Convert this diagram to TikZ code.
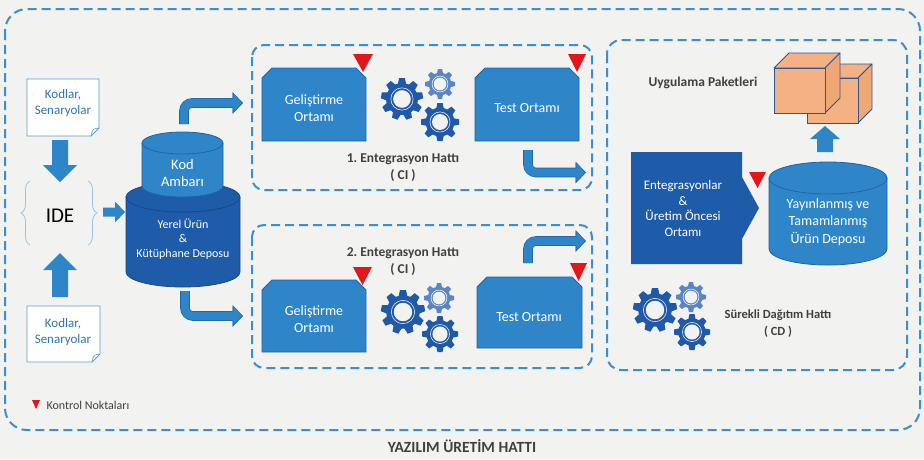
\documentclass[tikz,border=0pt]{standalone}
\usepackage{fontspec}
\setmainfont{Carlito}
\usetikzlibrary{calc,decorations.pathreplacing}

\definecolor{bg}{HTML}{F2F2F0}
\definecolor{midblue}{HTML}{2E86C9}
\definecolor{midedge}{HTML}{1F64A8}
\definecolor{darkblue}{HTML}{1E5BA8}
\definecolor{darkedge}{HTML}{174886}
\definecolor{gearlight}{HTML}{5A86C6}
\definecolor{geardark}{HTML}{2159A9}
\definecolor{dashblue}{HTML}{3A8FD0}
\definecolor{txtgray}{HTML}{404040}
\definecolor{doctext}{HTML}{2E75B6}
\definecolor{docedge}{HTML}{5B9BD5}
\definecolor{bracec}{HTML}{9DC3E6}
\definecolor{redmark}{HTML}{E3161B}
\definecolor{boxorange}{HTML}{F4B183}
\definecolor{boxside}{HTML}{EFA873}
\definecolor{boxedge}{HTML}{2F5597}

% cylinder: cx, top centre y, bottom centre y, rx, ry, body fill, top fill, edge
\newcommand{\cylshape}[8]{%
  \filldraw[fill=#6, draw=#8, line width=0.8pt] (#1-#4,-#2) -- (#1-#4,-#3)
    arc[start angle=180, end angle=360, x radius=#4pt, y radius=#5pt] -- (#1+#4,-#2) -- cycle;
  \filldraw[fill=#7, draw=#8, line width=0.8pt] (#1,-#2) ellipse [x radius=#4pt, y radius=#5pt];}

% document sheet with a curled corner: x0, y0, x1, y1, fold
\newcommand{\docshape}[5]{%
  \filldraw[fill=white, draw=docedge, line width=0.8pt] (#1,-#2) -- (#3,-#2) -- (#3,-#4+#5)
    -- (#3-#5,-#4) -- (#1,-#4) -- cycle;
  \draw[docedge, line width=0.6pt] (#3,-#4+#5) .. controls (#3-#5*0.8,-#4+#5*0.9) .. (#3-#5,-#4);}

% gear: cx, cy, outer radius, teeth, colour
\newcommand{\gearshape}[5]{%
  \begin{scope}[shift={(#1,-#2)}]
    \fill[#5] (0,0) circle[radius=0.76*#3];
    \pgfmathsetmacro\gstep{360/#4}
    \foreach \k in {1,...,#4}{%
      \fill[#5, rotate=\k*\gstep] (-0.2*#3,0.7*#3) -- (-0.14*#3,#3) -- (0.14*#3,#3) -- (0.2*#3,0.7*#3) -- cycle;}
    \fill[bg] (0,0) circle[radius=0.42*#3];
    \draw[white, line width=0.5pt] (0,0) circle[radius=0.53*#3];
  \end{scope}}

% box in perspective: x0, y0, x1, y1 (front face), depth
\newcommand{\cubeshape}[5]{%
  \filldraw[fill=boxorange, draw=boxedge, line width=0.8pt, line join=round]
    (#1,-#2) -- (#1+#5,-#2+#5) -- (#3+#5,-#2+#5) -- (#3,-#2) -- cycle;
  \filldraw[fill=boxside, draw=boxedge, line width=0.8pt, line join=round]
    (#3,-#2) -- (#3+#5,-#2+#5) -- (#3+#5,-#4+#5) -- (#3,-#4) -- cycle;
  \filldraw[fill=boxorange, draw=boxedge, line width=0.8pt] (#1,-#2) rectangle (#3,-#4);}

% environment block with cut top corners: x0, y0, x1, y1
\newcommand{\envshape}[4]{%
  \filldraw[fill=midblue, draw=midedge, line width=0.8pt] (#1,-#2-10) -- (#1,-#4) -- (#3,-#4)
    -- (#3,-#2-10) -- (#3-10,-#2) -- (#1+10,-#2) -- cycle;}

% straight block arrows
\newcommand{\vblock}[6]{% x, tail y, head base y, tip y, shaft half, head half
  \fill[midblue] (#1-#5,-#2) -- (#1-#5,-#3) -- (#1-#6,-#3) -- (#1,-#4) -- (#1+#6,-#3)
    -- (#1+#5,-#3) -- (#1+#5,-#2) -- cycle;}
\newcommand{\hblock}[6]{% y, tail x, head base x, tip x, shaft half, head half
  \fill[midblue] (#2,-#1+#5) -- (#3,-#1+#5) -- (#3,-#1+#6) -- (#4,-#1) -- (#3,-#1-#6)
    -- (#3,-#1-#5) -- (#2,-#1-#5) -- cycle;}

% bent block arrow ending to the right
\newcommand{\bentarrow}[2]{%
  \draw[shaft] (#1) |- (#2);
  \fill[midblue] ($(#2)+(-0.5,10)$) -- ($(#2)+(9.5,0)$) -- ($(#2)+(-0.5,-10)$) -- cycle;
  \draw[midedge, line width=0.7pt, line join=miter] ($(#2)+(0,4.6)$) -- ($(#2)+(0,10)$)
    -- ($(#2)+(9.5,0)$) -- ($(#2)+(0,-10)$) -- ($(#2)+(0,-4.6)$);}

% checkpoint marker: x, top y, width, height
\newcommand{\ctrlmark}[4]{%
  \fill[redmark] (#1-#3/2,-#2) -- (#1+#3/2,-#2) -- (#1,-#2-#4) -- cycle;}

\begin{document}
\begin{tikzpicture}[x=1pt, y=1pt,
  frame/.style={draw=dashblue, line width=2pt, dash pattern=on 9pt off 5pt},
  lbl/.style={text=txtgray, align=center, font=\bfseries\fontsize{13.5}{17}\selectfont},
  wtext/.style={text=white, align=center, font=\fontsize{14}{17}\selectfont},
  doctxt/.style={text=doctext, align=center, font=\fontsize{13}{16}\selectfont},
  shaft/.style={draw=midedge, line width=0.7pt, double=midblue, double distance=8.2pt, rounded corners=8pt}]

\fill[bg] (0,0) rectangle (924,-459);
\useasboundingbox (0,0) rectangle (924,-459);

% frames
\draw[frame, rounded corners=22pt] (5,-9) rectangle (920,-430);
\draw[frame, rounded corners=12pt] (252,-45) rectangle (592,-190);
\draw[frame, rounded corners=12pt] (252,-225) rectangle (592,-368);
\draw[frame, rounded corners=14pt] (607,-40) rectangle (907,-370);

% source documents and IDE
\docshape{27}{79}{99}{136}{8}
\node[doctxt] (docA) at (63,-103) {Kodlar,\\Senaryolar};
\docshape{27}{306}{100}{362}{8}
\node[doctxt] (docB) at (63,-332) {Kodlar,\\Senaryolar};
\node[text=black, font=\fontsize{21}{24}\selectfont] (ide) at (60,-216) {IDE};
\draw[bracec, line width=0.8pt, decorate, decoration={brace, amplitude=9pt}] (30,-245) -- (30,-181);
\draw[bracec, line width=0.8pt, decorate, decoration={brace, amplitude=9pt}] (88,-181) -- (88,-245);
\vblock{60}{140}{165}{182}{8}{17}
\vblock{60}{297}{270}{253}{8}{17}
\hblock{212}{103}{115}{125}{4.5}{10.5}

% repositories
\cylshape{183}{197}{272}{57}{15}{darkblue}{darkblue}{darkedge}
\cylshape{182.5}{143}{186}{40.5}{11}{midblue}{midblue}{midedge}
\node[wtext, font=\fontsize{14.5}{17.5}\selectfont] (kod) at (182.5,-173) {Kod\\Ambarı};
\node[wtext, font=\fontsize{12}{14.5}\selectfont] (yerel) at (183,-239) {Yerel Ürün\\\&\\Kütüphane Deposu};

\coordinate (repoTop) at (184,-124);
\coordinate (dev1in) at (233,-103);
\coordinate (repoBot) at (185,-291);
\coordinate (dev2in) at (233,-316);
\bentarrow{repoTop}{dev1in}
\bentarrow{repoBot}{dev2in}

% first integration line
\envshape{262}{68}{366}{141}
\node[wtext] (dev1) at (314,-108) {Geliştirme\\Ortamı};
\envshape{475}{68}{579}{141}
\node[wtext] (test1) at (527,-108) {Test Ortamı};
\ctrlmark{363}{54}{20}{18}
\ctrlmark{577}{54}{18}{18}
\gearshape{402}{99}{21}{9}{geardark}
\gearshape{440}{84}{15}{8}{gearlight}
\gearshape{440}{122}{19}{8}{geardark}
\node[lbl] (ci1) at (403,-168) {1.\ Entegrasyon Hattı\\( CI )};
\coordinate (test1out) at (528,-150);
\coordinate (cd1in) at (576,-172.5);
\bentarrow{test1out}{cd1in}

% second integration line
\envshape{262}{280}{366}{352}
\node[wtext] (dev2) at (314,-319) {Geliştirme\\Ortamı};
\envshape{477}{277}{582}{348}
\node[wtext] (test2) at (529,-317) {Test Ortamı};
\ctrlmark{362.5}{267}{19}{18}
\ctrlmark{578.5}{263}{17}{18}
\gearshape{403}{312}{22}{9}{geardark}
\gearshape{439}{298}{15}{8}{gearlight}
\gearshape{440}{334}{18}{8}{geardark}
\node[lbl] (ci2) at (403,-261.5) {2.\ Entegrasyon Hattı\\( CI )};
\coordinate (test2out) at (528,-263);
\coordinate (cd2in) at (576,-241);
\bentarrow{test2out}{cd2in}

% delivery line
\fill[darkblue] (631,-152) -- (742,-152) -- (742,-177) -- (759,-208) -- (742,-239)
  -- (742,-264) -- (631,-264) -- cycle;
\node[wtext, font=\fontsize{13}{15.5}\selectfont] (preprod) at (683,-208.5)
  {Entegrasyonlar\\\&\\Üretim Öncesi\\Ortamı};
\ctrlmark{757.5}{172}{17}{16}
\cylshape{828}{178}{249}{59}{16}{midblue}{midblue}{midedge}
\node[wtext, font=\fontsize{14}{17.5}\selectfont] (release) at (828,-222) {Yayınlanmış ve\\Tamamlanmış\\Ürün Deposu};
\vblock{825}{152}{139}{126}{8}{15}
\cubeshape{807}{78}{858}{123}{14}
\cubeshape{774}{68}{825}{113}{15}
\node[lbl] (pkg) at (703,-83) {Uygulama Paketleri};
\gearshape{655}{310}{22}{9}{geardark}
\gearshape{691}{297}{15}{8}{gearlight}
\gearshape{692}{332}{18}{8}{geardark}
\node[lbl, font=\bfseries\fontsize{12.5}{17}\selectfont] (cd) at (778,-323.5) {Sürekli Dağıtım Hattı\\( CD )};

% legend and title
\ctrlmark{36}{400}{8}{9}
\node[anchor=west, text=txtgray, font=\fontsize{12}{14}\selectfont] (legend) at (43,-405) {Kontrol Noktaları};
\node[text=txtgray, font=\bfseries\fontsize{15.5}{18}\selectfont] (title) at (462,-446) {YAZILIM ÜRETİM HATTI};
\end{tikzpicture}
\end{document}
